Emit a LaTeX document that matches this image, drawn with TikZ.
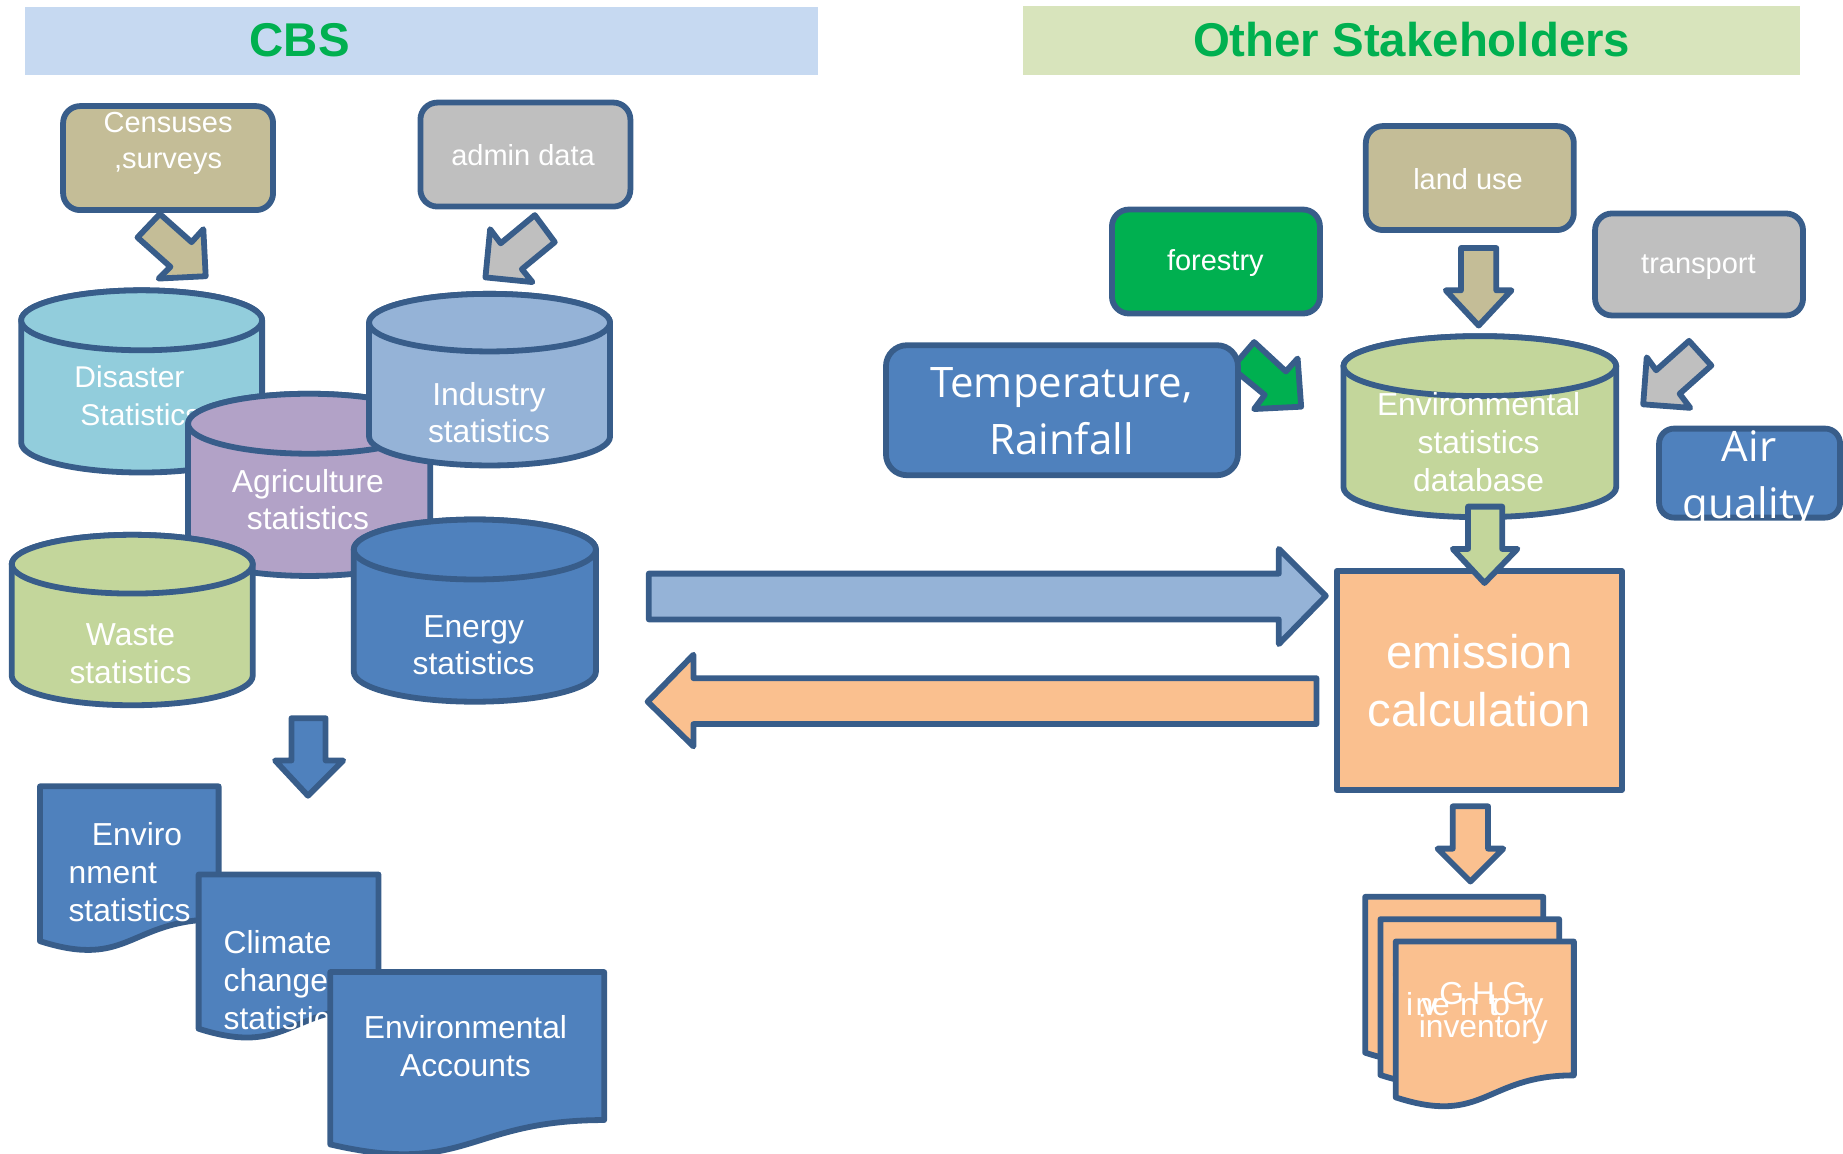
\documentclass[tikz,border=0pt]{standalone}
\usepackage{fontspec}
\setmainfont{Liberation Sans}
\newfontfamily\wideface{Open Sans}
\definecolor{edge}{HTML}{385D8A}
\definecolor{tan}{HTML}{C4BD97}
\definecolor{greyb}{HTML}{BFBFBF}
\definecolor{steel}{HTML}{4F81BD}
\definecolor{pale}{HTML}{95B3D7}
\definecolor{sky}{HTML}{92CDDC}
\definecolor{lilac}{HTML}{B2A2C7}
\definecolor{olive}{HTML}{C3D69B}
\definecolor{peach}{HTML}{FAC08F}
\definecolor{grn}{HTML}{00B050}
\definecolor{bara}{HTML}{C6D9F1}
\definecolor{barb}{HTML}{D8E4BC}
\tikzset{
  shapeline/.style={draw=edge,line width=2.9pt,line join=round},
  box/.style={shapeline,rounded corners=8.5pt,inner sep=0pt,text=white,align=center,font=\fontsize{14.5}{17.6}\selectfont},
  bigbox/.style={box,rounded corners=10.5pt},
  lab/.style={text=white,inner sep=0pt,align=center,font=\fontsize{15.9}{18.9}\selectfont},
  labl/.style={lab,align=left,anchor=west},
  smalllab/.style={lab,font=\fontsize{14.5}{17.6}\selectfont},
  ghglab/.style={lab,font=\fontsize{15.9}{18.9}\selectfont},
  widelab/.style={lab,font=\wideface\fontsize{21}{28.8}\selectfont},
  head/.style={inner sep=0pt,text=grn,font=\bfseries\fontsize{23.7}{28}\selectfont},
  bar/.style={inner sep=0pt,draw=none},
  arrowshape/.style={shapeline}
}
% name, fill, left, right, top, ellipse bottom, bottom
\newcommand\can[7]{%
  \pgfmathsetmacro\cx{(#3+#4)/2}\pgfmathsetmacro\rx{(#4-#3)/2}\pgfmathsetmacro\ry{(#6-#5)/2}%
  \pgfmathsetmacro\cy{(#5+#6)/2}\pgfmathsetmacro\by{#7-\ry}%
  \path[shapeline,fill=#2] (#3,\cy) -- (#3,\by) arc[start angle=180,end angle=0,x radius=\rx,y radius=\ry] -- (#4,\cy)
     arc[start angle=360,end angle=180,x radius=\rx,y radius=\ry] -- cycle;
  \path[shapeline,fill=#2] (\cx,\cy) ellipse[x radius=\rx,y radius=\ry];
  \coordinate (#1) at (\cx,\cy);}
% name, fill, left, right, top, height
\newcommand\docu[6]{%
  \pgfmathsetmacro\dm{(#3+#4)/2}\pgfmathsetmacro\da{#5+0.802*#6}\pgfmathsetmacro\db{#5+1.107*#6}\pgfmathsetmacro\dc{#5+0.934*#6}%
  \path[shapeline,fill=#2] (#3,#5) -- (#4,#5) -- (#4,\da) .. controls (\dm,\da) and (\dm,\db) .. (#3,\dc) -- cycle;
  \coordinate (#1) at (\dm,#5);}
\begin{document}
\begin{tikzpicture}[x=0.5877pt,y=-0.5877pt]
\useasboundingbox (0,0) rectangle (1568,981);
% headers
\node[bar,fill=bara,minimum width=396.7pt,minimum height=34pt] (barcbs) at (358.5,35) {};
\node[bar,fill=barb,minimum width=388.5pt,minimum height=34.7pt] (barother) at (1200.5,34.5) {};
\node[head] (cbs) at (255,34) {CBS};
\node[head] (other) at (1201,34) {Other Stakeholders};
% source boxes
\node[box,fill=tan,minimum width=105pt,minimum height=52pt] (census) at (143,134.5) {};
\node[smalllab] (censustext) at (143,122) {Censuses\\,surveys};
\node[box,fill=greyb,minimum width=105pt,minimum height=52pt] (admin) at (447,131.5) {};
\node[smalllab] (admintext) at (445,132) {admin data};
\node[box,fill=tan,minimum width=104pt,minimum height=52pt] (land) at (1250.5,151.5) {};
\node[smalllab] (landtext) at (1249,152) {land use};
\node[box,fill=grn,minimum width=104pt,minimum height=52pt] (forest) at (1034.5,222.5) {};
\node[smalllab] (foresttext) at (1034,224) {forestry};
\node[box,fill=greyb,minimum width=104pt,minimum height=51pt] (transport) at (1445.5,225) {};
\node[smalllab] (transporttext) at (1445,227) {transport};
% small arrows
\path[arrowshape,fill=tan] (136,182) -- (117,202) -- (145,227) -- (135,237) -- (175,235) -- (173,195) -- (163,206) -- cycle;
\path[arrowshape,fill=greyb] (455,183) -- (472,206) -- (444,229) -- (453,240) -- (413,236) -- (417,195) -- (426,207) -- cycle;
\path[arrowshape,fill=tan] (1243,211) -- (1273,211) -- (1273,247) -- (1286,247) -- (1258,277) -- (1230,247) -- (1243,247) -- cycle;
\path[arrowshape,fill=grn] (1067,291) -- (1048,313) -- (1076,336) -- (1067,348) -- (1107,346) -- (1104,305) -- (1094,316) -- cycle;
\path[arrowshape,fill=greyb] (1437,290) -- (1456,311) -- (1429,335) -- (1438,347) -- (1398,344) -- (1401,304) -- (1409,315) -- cycle;
% temperature, air
\node[bigbox,fill=steel,minimum width=176pt,minimum height=65pt] (temp) at (903.5,349) {};
\node[widelab] (temptext) at (903,350) {Temperature,\\Rainfall};
\node[box,rounded corners=7.5pt,fill=steel,minimum width=90.5pt,minimum height=44.5pt] (air) at (1488.5,402.5) {};
\node[widelab] (airtext) at (1488,408) {Air\\quality};
% left cylinders
\can{disaster}{sky}{18}{223}{247}{298}{402}
\node[labl,font=\fontsize{15}{18.9}\selectfont] (disastertext) at (63,337) {Disaster\\\hspace{3pt}Statistics};
\can{agri}{lilac}{160}{366}{335}{386}{490}
\node[lab] (agritext) at (262,425) {Agriculture\\statistics};
\can{industry}{pale}{314}{519}{250}{299}{396}
\node[lab] (industrytext) at (416,351) {Industry\\statistics};
\can{waste}{olive}{10}{215}{455}{505}{600}
\node[lab] (wastetext) at (111,556) {Waste\\statistics};
\can{energy}{steel}{301}{507}{442}{493}{597}
\node[lab] (energytext) at (403,549) {Energy\\statistics};
% big arrows
\path[arrowshape,fill=pale] (552,488) -- (1088,488) -- (1088,467) -- (1128,507) -- (1088,548) -- (1088,527) -- (552,527) -- cycle;
\path[arrowshape,fill=peach] (1120,577) -- (590,577) -- (590,557) -- (551,597) -- (590,635) -- (590,616) -- (1120,616) -- cycle;
% environmental database
\can{envdb}{olive}{1143}{1375}{286}{337}{440}
\node[lab] (envdbtext) at (1258,376) {Environmental\\statistics\\database};
% emission
\node[shapeline,fill=peach,inner sep=0pt,minimum width=142.5pt,minimum height=109.5pt,text=white,align=center,font=\fontsize{23.6}{28.7}\selectfont] (emission) at (1258.5,579) {emission\\calculation};
% arrows into and out of emission, and the left down arrow
\path[arrowshape,fill=olive] (1249,431) -- (1278,431) -- (1278,467) -- (1291,467) -- (1263,496) -- (1236,467) -- (1249,467) -- cycle;
\path[arrowshape,fill=peach] (1236,686) -- (1266,686) -- (1266,722) -- (1279,722) -- (1251,750) -- (1223,722) -- (1236,722) -- cycle;
\path[arrowshape,fill=steel] (248,611) -- (277,611) -- (277,647) -- (292,647) -- (262,677) -- (234,647) -- (248,647) -- cycle;
% left documents
\docu{docenv}{steel}{34}{186}{669}{141}
\node[labl] (docenvtext) at (58,742) {\hspace{11.7pt}Enviro\\nment\\statistics};
\docu{docclim}{steel}{169}{322}{744}{140.5}
\node[labl] (docclimtext) at (190,834) {Climate\\change\\statistics};
\docu{docacc}{steel}{281}{514}{827}{157}
\node[lab] (docacctext) at (396,890) {Environmental\\Accounts};
% GHG documents
\docu{ghga}{peach}{1161.5}{1313}{763}{142}
\docu{ghgb}{peach}{1174.5}{1326.5}{782}{142}
\node[labl,font=\fontsize{15.9}{18.9}\selectfont] (ghgbtext) at (1183,838) {inventory};
\docu{ghgc}{peach}{1187.5}{1339}{801}{142}
\node[ghglab] (ghgtext) at (1262,845) {G\kern4pt H\kern3.8pt G};
\node[ghglab,anchor=west] (ghgspread) at (1196,857) {i\kern1.2pt n\kern-5.9pt v\kern-2.6pt e\kern5.1pt n\kern5.5pt t\kern-2.6pt o\kern6.2pt r\kern-2.7pt y};
\node[ghglab] (ghginv) at (1262,876) {inventory};
\end{tikzpicture}
\end{document}
